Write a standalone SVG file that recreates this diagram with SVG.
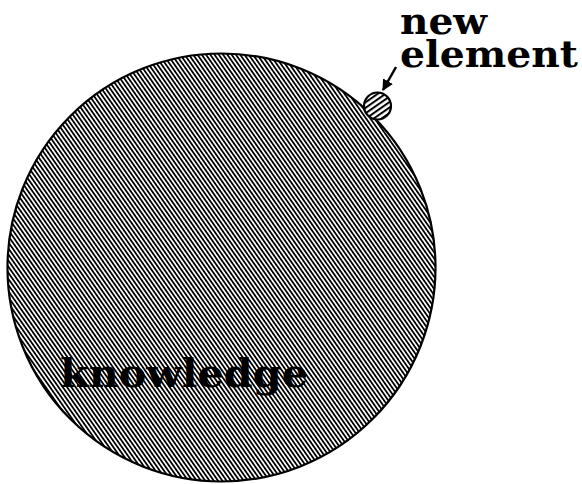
<svg xmlns="http://www.w3.org/2000/svg" width="582" height="484" viewBox="0 0 582 484">
  <defs>
    <pattern id="hatch" patternUnits="userSpaceOnUse" width="3.5" height="3.5" patternTransform="rotate(-35)">
      <rect x="0" y="0" width="3.5" height="3.5" fill="#ffffff"/>
      <rect x="0" y="0" width="1.8" height="3.5" fill="#000000"/>
    </pattern>
    <pattern id="hatchSmall" patternUnits="userSpaceOnUse" width="4.5" height="4.5" patternTransform="rotate(55)">
      <rect x="0" y="0" width="4.5" height="4.5" fill="#ffffff"/>
      <rect x="0" y="0" width="2" height="4.5" fill="#000000"/>
    </pattern>
    <marker id="arrow" viewBox="0 0 10 10" refX="9" refY="5" markerWidth="4.5" markerHeight="4.5" orient="auto" markerUnits="strokeWidth">
      <path d="M0,0 L10,5 L0,10 Z" fill="#000"/>
    </marker>
    <style>
      .blob { stroke: #000; stroke-width: 2.2; }
      .lbl { font-family: "DejaVu Serif", "Liberation Serif", serif; font-weight: bold; fill: #000; }
    </style>
  </defs>
  <rect width="582" height="484" fill="#ffffff"/>
  <g id="knowledge">
    <circle class="blob" cx="221.5" cy="267.5" r="214" fill="url(#hatch)"/>
    <text class="lbl" x="60" y="387" font-size="40" textLength="248" lengthAdjust="spacingAndGlyphs">knowledge</text>
  </g>
  <g id="new-element">
    <circle class="blob" cx="377.5" cy="106" r="13.5" fill="url(#hatchSmall)"/>
    <text class="lbl" x="400" y="34" font-size="37" textLength="87" lengthAdjust="spacingAndGlyphs">new</text>
    <text class="lbl" x="400" y="67" font-size="37" textLength="178" lengthAdjust="spacingAndGlyphs">element</text>
  </g>
  <g id="connectors">
    <line x1="396" y1="67" x2="383" y2="90" stroke="#000" stroke-width="2.5" marker-end="url(#arrow)"/>
  </g>
</svg>
